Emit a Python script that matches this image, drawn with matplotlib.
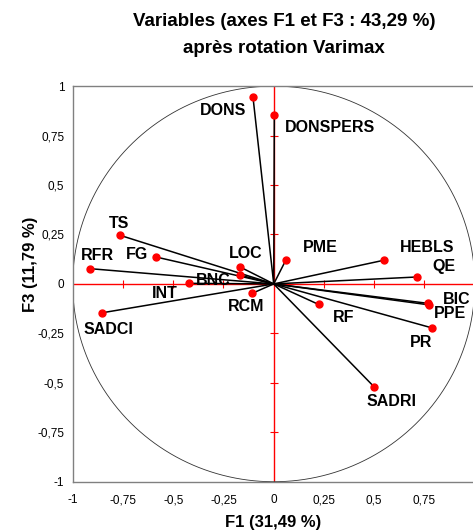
import numpy as np
import matplotlib.pyplot as plt

plt.rcParams['font.family'] = ['Liberation Sans', 'DejaVu Sans']

# loadings (F1, F3)
variables = ['DONS', 'DONSPERS', 'TS', 'RFR', 'FG', 'LOC', 'BNC', 'INT', 'RCM',
             'SADCI', 'PME', 'HEBLS', 'QE', 'BIC', 'PPE', 'PR', 'RF', 'SADRI']
f1 = [-0.103, 0.003, -0.765, -0.912, -0.585, -0.168, -0.169, -0.421, -0.106,
      -0.854, 0.060, 0.549, 0.711, 0.765, 0.773, 0.786, 0.224, 0.499]
f3 = [0.943, 0.854, 0.246, 0.077, 0.136, 0.086, 0.045, 0.003, -0.047,
      -0.146, 0.120, 0.120, 0.035, -0.098, -0.106, -0.222, -0.104, -0.520]

# label offsets in pixels
offsets = {
    'DONS': (-30, -13), 'DONSPERS': (56, -12), 'TS': (-1, 12), 'RFR': (7, 13),
    'FG': (-19, 3), 'LOC': (6, 13), 'BNC': (-27, -5), 'INT': (-24, -10),
    'RCM': (-6, -13), 'SADCI': (6, -17), 'PME': (35, 13), 'HEBLS': (43, 13),
    'QE': (27, 11), 'BIC': (29, 4), 'PPE': (21, -9), 'PR': (-11, -15),
    'RF': (25, -13), 'SADRI': (17, -15),
}

ticks = [-1, -0.75, -0.5, -0.25, 0, 0.25, 0.5, 0.75, 1]
x_tick_labels = ['-1', '-0,75', '-0,5', '-0,25', '0', '0,25', '0,5', '0,75', '']
y_tick_labels = ['-1', '-0,75', '-0,5', '-0,25', '0', '0,25', '0,5', '0,75', '1']

fig = plt.figure(figsize=(4.73, 5.31), dpi=100)
ax = fig.add_axes([0.1537, 0.0928, 0.850, 0.745])
ax.set_xlim(-1, 1)
ax.set_ylim(-1, 1)

# axes through origin with small tick crosses
ax.plot([-1, 1], [0, 0], color='red', lw=1, zorder=1)
ax.plot([0, 0], [-1, 1], color='red', lw=1, zorder=1)
inner = [t for t in ticks if t not in (-1, 0, 1)]
ax.plot(inner, [0] * len(inner), ls='none', marker='|', color='red', ms=6, mew=0.8, zorder=1)
ax.plot([0] * len(inner), inner, ls='none', marker='_', color='red', ms=6, mew=0.8, zorder=1)

# correlation circle
t = np.linspace(0, 2 * np.pi, 400)
ax.plot(np.cos(t), np.sin(t), color='#333333', lw=0.6, zorder=2)

for name, x, y in zip(variables, f1, f3):
    ax.plot([0, x], [0, y], color='black', lw=1.1, zorder=3)
ax.plot(f1, f3, ls='none', marker='o', color='red', ms=5, zorder=4)

for name, x, y in zip(variables, f1, f3):
    dx, dy = offsets[name]
    ax.annotate(name, (x, y), xytext=(dx, dy), textcoords='offset pixels',
                ha='center', va='center', fontsize=11.5, fontweight='bold', zorder=5)

ax.set_xticks(ticks)
ax.set_xticklabels(x_tick_labels)
ax.set_yticks(ticks)
ax.set_yticklabels(y_tick_labels)
ax.tick_params(length=0, labelsize=8.5)
ax.tick_params(axis='x', pad=9)
ax.tick_params(axis='y', pad=6)
for s in ax.spines.values():
    s.set_color('#808080')
    s.set_linewidth(1)

fig.text(284 / 473, 1 - 22 / 531, 'Variables (axes F1 et F3 : 43,29 %)',
         ha='center', va='center', fontsize=13.5, fontweight='bold')
fig.text(284 / 473, 1 - 48 / 531, 'après rotation Varimax',
         ha='center', va='center', fontsize=13.5, fontweight='bold')
fig.text(273 / 473, 1 - 522 / 531, 'F1 (31,49 %)',
         ha='center', va='center', fontsize=12, fontweight='bold')
fig.text(30 / 473, 1 - 264 / 531, 'F3 (11,79 %)', rotation=90,
         ha='center', va='center', fontsize=12, fontweight='bold')

fig.savefig('out.png', dpi=100)
